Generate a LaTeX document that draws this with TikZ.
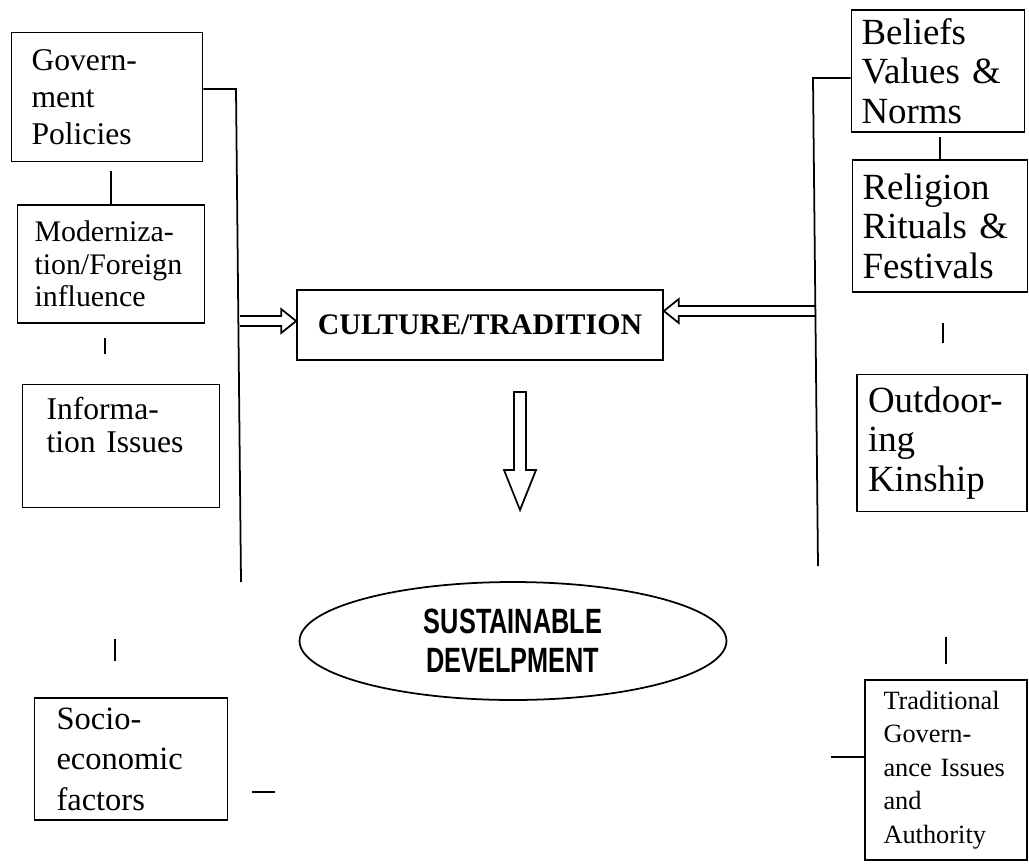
\documentclass[tikz,border=0pt]{standalone}
\usepackage{fontspec}
\setmainfont{Liberation Serif}
\newfontfamily\narrowsans[FakeStretch=0.72]{Liberation Sans}
\usetikzlibrary{calc,shapes.geometric}

\begin{document}
\begin{tikzpicture}[x=0.02cm, y=-0.02cm,
  factor/.style={draw, line width=1pt, align=left, inner xsep=0.4cm, inner ysep=0pt},
  core/.style={draw, line width=1pt, minimum width=7.32cm, minimum height=1.4cm,
    font=\fontsize{17}{20}\selectfont\bfseries},
  goal/.style={draw, ellipse, line width=1pt, inner sep=0pt, minimum width=8.54cm,
    minimum height=2.36cm, align=center, font=\narrowsans\bfseries\fontsize{20}{22}\selectfont},
  link/.style={line width=1pt},
  hollow/.style={line width=1pt, line join=miter}
]
\useasboundingbox (0,0) rectangle (1029,867);

% left column
\node[factor, text width=3.02cm, minimum height=2.58cm, font=\fontsize{18}{21}\selectfont]
  (gov) at (107,97) {Govern-\\ment\\Policies};
\node[factor, inner xsep=0.34cm, text width=3.06cm, minimum height=2.36cm, font=\fontsize{17}{18.5}\selectfont]
  (mod) at (111,264) {Moderniza-\\tion/Foreign\\influence};
\node[factor, inner xsep=0.48cm, text width=2.98cm, minimum height=2.46cm, font=\fontsize{18}{18.5}\selectfont]
  (info) at (121,446) {Informa-\\tion Issues\\\strut};
\node[factor, inner xsep=0.44cm, text width=2.98cm, minimum height=2.44cm, font=\fontsize{18.5}{23}\selectfont]
  (soc) at (131,759) {Socio-\\economic\\factors};

% right column
\node[factor, inner xsep=0.2cm, text width=3.06cm, minimum height=2.44cm, font=\fontsize{21}{22.5}\selectfont]
  (bel) at (938,71) {Beliefs\\Values \&\\Norms};
\node[factor, inner xsep=0.2cm, text width=3.1cm, minimum height=2.64cm, font=\fontsize{21}{22.5}\selectfont]
  (rel) at (940,226) {Religion\\Rituals \&\\Festivals};
\node[factor, inner xsep=0.22cm, text width=2.96cm, minimum height=2.74cm, font=\fontsize{21}{22.5}\selectfont]
  (out) at (942,443) {Outdoor-\\ing\\Kinship};
\node[factor, inner xsep=0.37cm, text width=2.5cm, minimum height=3.6cm, font=\fontsize{15}{19}\selectfont]
  (trad) at (946,770) {Traditional\\Govern-\\ance Issues\\and\\Authority};

% centre
\node[core] (cul) at (480,325) {CULTURE/TRADITION};
\node[goal] (sd) at (513,641) {SUSTAINABLE\\DEVELPMENT};

% bars collecting the two columns
\coordinate (ltop) at (236,89);
\coordinate (lbot) at (241,582);
\coordinate (rtop) at (813,78);
\coordinate (rbot) at (818,566);
\draw[link] (gov.east |- ltop) -- (ltop) -- (lbot);
\draw[link] (bel.west |- rtop) -- (rtop) -- (rbot);

% short ticks between boxes
\draw[link] (mod.north) -- ++(0,-33);
\draw[link] ($(mod.south)+(-6,14)$) -- ++(0,16);
\draw[link] ($(soc.north)+(-16,-58)$) -- ++(0,22);
\draw[link] ($(soc.east)+(24,33)$) -- ++(23,0);
\draw[link] (rel.north) -- ++(0,-22);
\draw[link] ($(rel.south)+(3,30)$) -- ++(0,20);
\draw[link] ($(trad.north)+(0,-42)$) -- ++(0,27);
\draw[link] ($(trad.west)+(0,-13)$) -- ++(-33,0);

% hollow arrows into and out of the core box
\coordinate (lin) at (240,321);
\coordinate (rin) at (816,311);
\coordinate (dtop) at (520,392);
\coordinate (dtip) at (520,510);
\draw[hollow] ($(lin)+(0,-5)$) -- ($(lin -| cul.west)+(-15,-5)$) -- ($(lin -| cul.west)+(-15,-12)$)
  -- (lin -| cul.west) -- ($(lin -| cul.west)+(-15,12)$) -- ($(lin -| cul.west)+(-15,5)$) -- ($(lin)+(0,5)$);
\draw[hollow] ($(rin)+(0,-5)$) -- ($(rin -| cul.east)+(15,-5)$) -- ($(rin -| cul.east)+(15,-12)$)
  -- (rin -| cul.east) -- ($(rin -| cul.east)+(15,12)$) -- ($(rin -| cul.east)+(15,5)$) -- ($(rin)+(0,5)$);
\draw[hollow] ($(dtop)+(-6,0)$) -- ($(dtip)+(-6,-40)$) -- ($(dtip)+(-16,-40)$) -- (dtip)
  -- ($(dtip)+(16,-40)$) -- ($(dtip)+(6,-40)$) -- ($(dtop)+(6,0)$) -- cycle;
\end{tikzpicture}
\end{document}
